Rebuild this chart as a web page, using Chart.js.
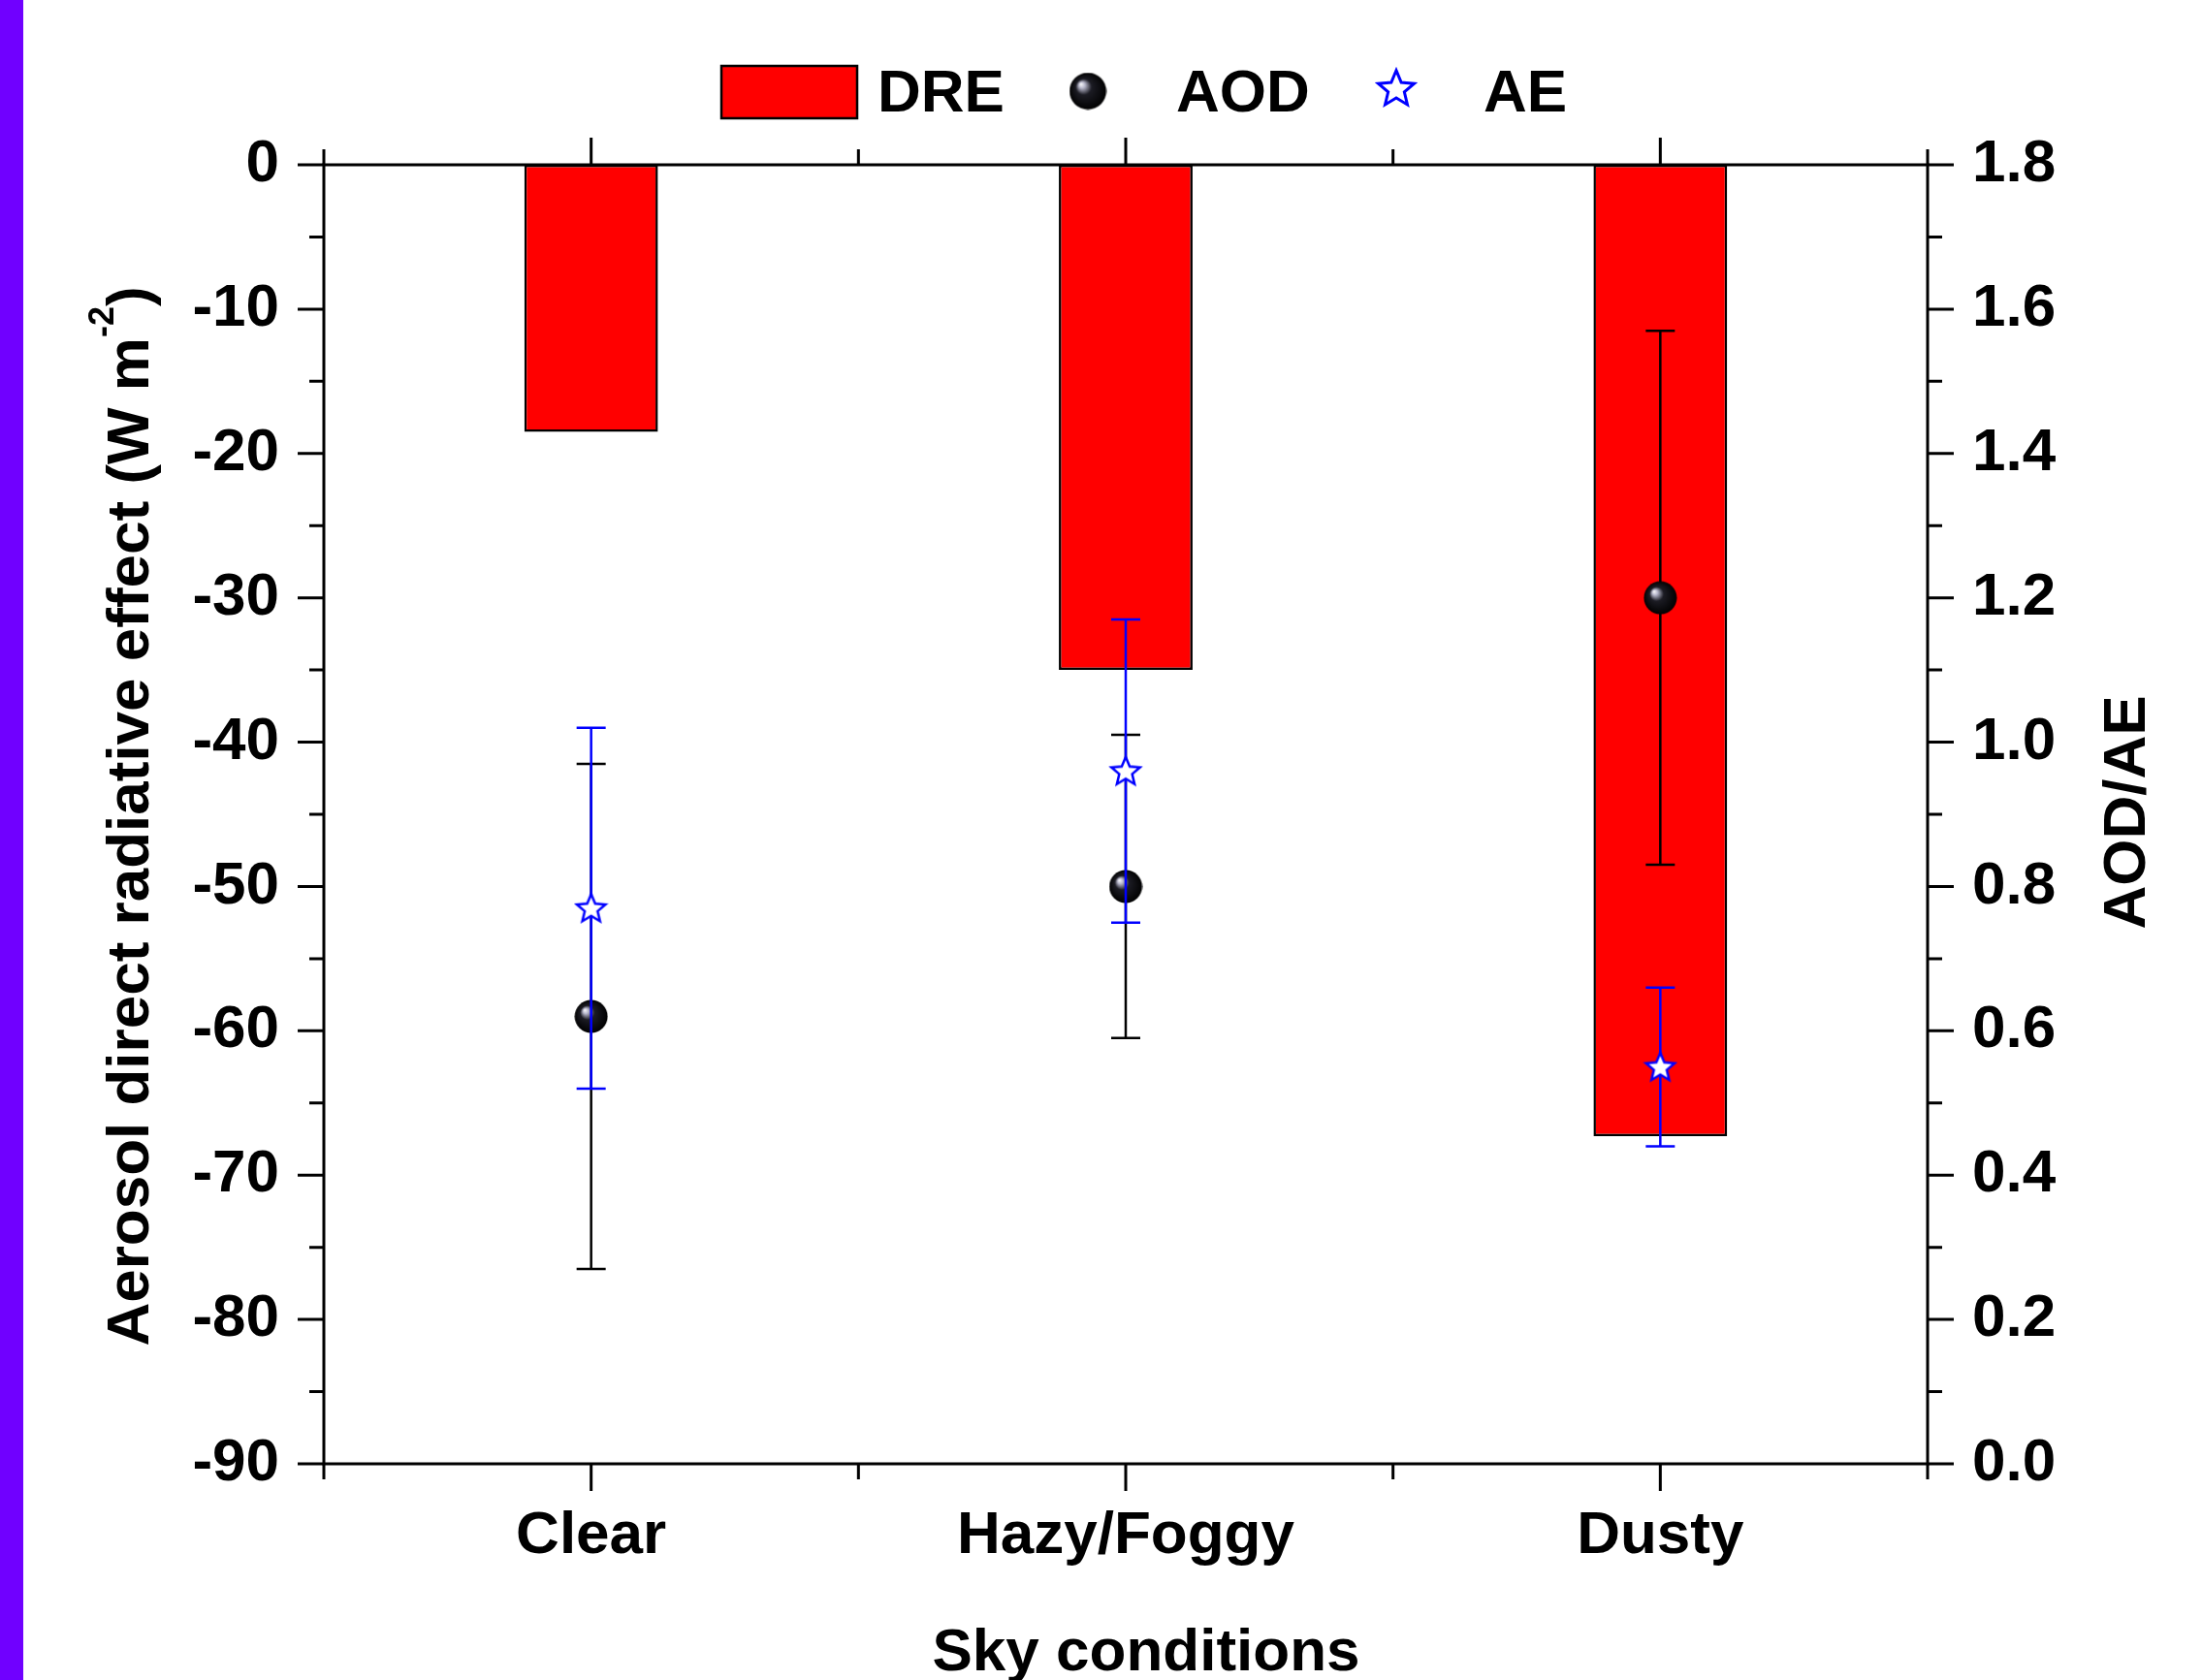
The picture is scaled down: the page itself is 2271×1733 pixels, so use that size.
<!DOCTYPE html>
<html><head><meta charset="utf-8">
<script src="https://cdn.jsdelivr.net/npm/chart.js@4/dist/chart.umd.min.js"></script>
<style>
html,body{margin:0;padding:0;background:#fff;overflow:hidden}
#wrap{position:relative;width:2271px;height:1733px;background:#fff}
#strip{position:absolute;left:0;top:0;width:24px;height:1733px;background:#7000ff}
canvas{position:absolute;left:0;top:0}
</style></head><body>
<div id="wrap"><canvas id="c" width="2271" height="1733"></canvas><div id="strip"></div></div>
<script>
// ---- data ----
const categories = ['Clear', 'Hazy/Foggy', 'Dusty'];
const dre = [-18.5, -35.0, -67.3];
const aod = [0.62, 0.80, 1.20];
const aodErr = [0.35, 0.21, 0.37];
const ae = [0.77, 0.96, 0.55];
const aeErr = [0.25, 0.21, 0.11];
const seriesNames = ['DRE', 'AOD', 'AE'];
const leftTitle = 'Aerosol direct radiative effect (W m';
const leftTitleSup = '-2';
const leftTitleEnd = ')';
const rightTitle = 'AOD/AE';
const xTitle = 'Sky conditions';

const FF = "'Liberation Sans', Arial, Helvetica, sans-serif";

function makeSphere(d) {
  const c = document.createElement('canvas');
  c.width = c.height = d;
  const g = c.getContext('2d');
  const r = d / 2;
  const gr = g.createRadialGradient(r - r * 0.38, r - r * 0.38, 0, r, r, r);
  gr.addColorStop(0, '#ffffff');
  gr.addColorStop(0.16, '#b8b8cc');
  gr.addColorStop(0.42, '#1c1c24');
  gr.addColorStop(1, '#000000');
  g.fillStyle = gr;
  g.beginPath(); g.arc(r, r, r - 0.5, 0, Math.PI * 2); g.fill();
  return c;
}
function makeStar(size, R, lw) {
  const c = document.createElement('canvas');
  c.width = c.height = size;
  const g = c.getContext('2d');
  const cx = size / 2, cy = size / 2 + R * 0.06;
  const ri = R * 0.45;
  g.beginPath();
  for (let k = 0; k < 10; k++) {
    const a = -Math.PI / 2 + k * Math.PI / 5;
    const rr = k % 2 === 0 ? R : ri;
    const px = cx + rr * Math.cos(a), py = cy + rr * Math.sin(a);
    if (k === 0) g.moveTo(px, py); else g.lineTo(px, py);
  }
  g.closePath();
  g.fillStyle = '#ffffff'; g.fill();
  g.lineWidth = lw; g.strokeStyle = '#0000ff'; g.lineJoin = 'miter'; g.stroke();
  return c;
}
const sphereImg = makeSphere(35);
const starImg = makeStar(36, 15.5, 2.5);
const sphereLeg = makeSphere(39);
const starLeg = makeStar(46, 19.5, 3);

function drawErr(chart, vals, errs, color) {
  const ctx = chart.ctx, xs = chart.scales.x, ys = chart.scales.y1;
  ctx.save();
  ctx.strokeStyle = color; ctx.lineWidth = 2.5;
  vals.forEach((v, i) => {
    const x = xs.getPixelForValue(i);
    const yt = ys.getPixelForValue(v + errs[i]);
    const yb = ys.getPixelForValue(v - errs[i]);
    ctx.beginPath();
    ctx.moveTo(x, yt); ctx.lineTo(x, yb);
    ctx.moveTo(x - 15, yt); ctx.lineTo(x + 15, yt);
    ctx.moveTo(x - 15, yb); ctx.lineTo(x + 15, yb);
    ctx.stroke();
  });
  ctx.restore();
}

const decor = {
  id: 'decor',
  afterDatasetDraw(chart, args) {
    if (args.index === 0) drawErr(chart, aod, aodErr, '#000000');
    if (args.index === 1) drawErr(chart, ae, aeErr, '#0000ff');
  },
  afterDraw(chart) {
    const ctx = chart.ctx, a = chart.chartArea;
    const xs = chart.scales.x, ys = chart.scales.y, y1 = chart.scales.y1;
    ctx.save();
    ctx.strokeStyle = '#000'; ctx.lineWidth = 3;
    ctx.strokeRect(a.left, a.top, a.right - a.left, a.bottom - a.top);
    ctx.beginPath();
    // x ticks top & bottom
    for (let i = 0; i < categories.length; i++) {
      const x = xs.getPixelForValue(i);
      ctx.moveTo(x, a.bottom); ctx.lineTo(x, a.bottom + 28);
      ctx.moveTo(x, a.top); ctx.lineTo(x, a.top - 28);
    }
    for (let i = 0; i <= categories.length; i++) {
      const x = xs.getPixelForValue(i - 0.5);
      ctx.moveTo(x, a.bottom); ctx.lineTo(x, a.bottom + 16);
      ctx.moveTo(x, a.top); ctx.lineTo(x, a.top - 16);
    }
    // left y ticks
    for (let v = -90; v <= 0; v += 5) {
      const y = ys.getPixelForValue(v);
      const len = (v % 10 === 0) ? 27 : 15;
      ctx.moveTo(a.left, y); ctx.lineTo(a.left - len, y);
    }
    // right y ticks
    for (let k = 0; k <= 18; k++) {
      const y = y1.getPixelForValue(k / 10);
      const len = (k % 2 === 0) ? 27 : 15;
      ctx.moveTo(a.right, y); ctx.lineTo(a.right + len, y);
    }
    ctx.stroke();

    ctx.fillStyle = '#000';
    ctx.textBaseline = 'alphabetic';
    // left title with superscript
    ctx.save();
    ctx.translate(153, (a.top + a.bottom) / 2 + 2);
    ctx.rotate(-Math.PI / 2);
    ctx.font = `bold 62px ${FF}`;
    const w1 = ctx.measureText(leftTitle).width;
    const w3 = ctx.measureText(leftTitleEnd).width;
    ctx.font = `bold 36px ${FF}`;
    const w2 = ctx.measureText(leftTitleSup).width;
    const x0 = -(w1 + w2 + w3) / 2;
    ctx.textAlign = 'left';
    ctx.font = `bold 62px ${FF}`;
    ctx.fillText(leftTitle, x0, 0);
    ctx.font = `bold 36px ${FF}`;
    ctx.fillText(leftTitleSup, x0 + w1, -36);
    ctx.font = `bold 62px ${FF}`;
    ctx.fillText(leftTitleEnd, x0 + w1 + w2, 0);
    ctx.restore();
    // right title
    ctx.save();
    ctx.translate(2212, (a.top + a.bottom) / 2 - 2);
    ctx.rotate(-Math.PI / 2);
    ctx.font = `bold 62px ${FF}`;
    ctx.textAlign = 'center';
    ctx.fillText(rightTitle, 0, 0);
    ctx.restore();
    // x title
    ctx.font = `bold 62px ${FF}`;
    ctx.textAlign = 'center';
    ctx.fillText(xTitle, 1182, 1723);

    // legend
    ctx.fillStyle = '#ff0000';
    ctx.fillRect(744, 68, 140, 54);
    ctx.lineWidth = 2.5; ctx.strokeStyle = '#000';
    ctx.strokeRect(744, 68, 140, 54);
    ctx.fillStyle = '#000';
    ctx.textAlign = 'left';
    ctx.fillText(seriesNames[0], 905, 115);
    ctx.drawImage(sphereLeg, 1122 - sphereLeg.width / 2, 94 - sphereLeg.height / 2);
    ctx.fillText(seriesNames[1], 1213, 115);
    ctx.drawImage(starLeg, 1440 - starLeg.width / 2, 91 - starLeg.height / 2);
    ctx.fillText(seriesNames[2], 1530, 115);
    ctx.restore();
  }
};

const tickFont = {family: FF, size: 62, weight: 'bold'};

new Chart(document.getElementById('c'), {
  data: {
    labels: categories,
    datasets: [
      {type: 'bar', label: seriesNames[0], data: dre, yAxisID: 'y', xAxisID: 'x',
       backgroundColor: '#ff0000', borderColor: '#000000', borderWidth: 2.5, borderSkipped: false,
       barPercentage: 0.5, categoryPercentage: 0.5, order: 3},
      {type: 'line', label: seriesNames[1], data: aod, yAxisID: 'y1', xAxisID: 'x',
       showLine: false, pointStyle: sphereImg, pointRadius: 17, order: 2},
      {type: 'line', label: seriesNames[2], data: ae, yAxisID: 'y1', xAxisID: 'x',
       showLine: false, pointStyle: starImg, pointRadius: 16, order: 1}
    ]
  },
  options: {
    responsive: false,
    animation: false,
    devicePixelRatio: 1,
    events: [],
    layout: {padding: {top: 170, left: 0, right: 0, bottom: 0}},
    plugins: {legend: {display: false}, tooltip: {enabled: false}, title: {display: false}},
    scales: {
      x: {type: 'category', position: 'bottom', offset: true,
          grid: {display: false, drawTicks: false}, border: {display: false},
          ticks: {font: tickFont, color: '#000', padding: 38, maxRotation: 0, autoSkip: false},
          afterFit(s) { s.height = 223; }},
      y: {type: 'linear', position: 'left', min: -90, max: 0,
          grid: {display: false, drawTicks: false}, border: {display: false},
          ticks: {stepSize: 10, font: tickFont, color: '#000', padding: 46},
          afterFit(s) { s.width = 334; }},
      y1: {type: 'linear', position: 'right', min: 0, max: 1.8,
           grid: {display: false, drawTicks: false}, border: {display: false},
           ticks: {stepSize: 0.2, font: tickFont, color: '#000', padding: 46,
                   callback: v => Number(v).toFixed(1)},
           afterFit(s) { s.width = 283; }}
    }
  },
  plugins: [decor]
});
</script>
</body></html>
